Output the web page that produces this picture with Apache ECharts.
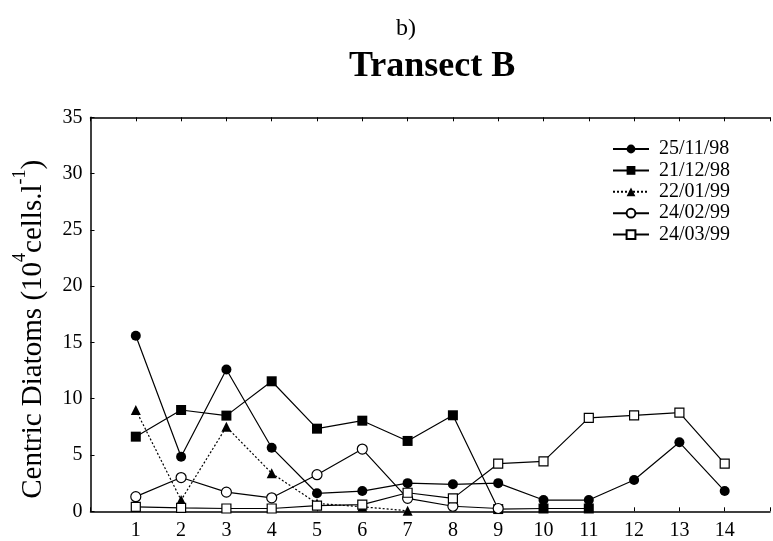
<!DOCTYPE html>
<html>
<head>
<meta charset="utf-8">
<script src="https://cdn.jsdelivr.net/npm/echarts@6/dist/echarts.min.js"></script>
<style>
  html, body { margin: 0; padding: 0; background: #fff; }
  #chart { width: 773px; height: 541px; }
</style>
</head>
<body>
<div id="chart"></div>
<script>
// Stations along transect B
const stations = [1, 2, 3, 4, 5, 6, 7, 8, 9, 10, 11, 12, 13, 14];

// Centric diatom abundance (10^4 cells per litre) for each sampling date
const d25_11_98 = [15.6, 4.85, 12.6, 5.65, 1.6, 1.8, 2.5, 2.4, 2.5, 1.0, 1.0, 2.78, 6.13, 1.8];
const d21_12_98 = [6.63, 9.0, 8.5, 11.55, 7.34, 8.05, 6.25, 8.53, 0.2, 0.25, 0.25];
const d22_01_99 = [9.0, 1.0, 7.5, 3.38, 0.7, 0.4, 0.05];
const d24_02_99 = [1.3, 3.0, 1.7, 1.2, 3.25, 5.53, 1.15, 0.45, 0.25];
const d24_03_99 = [0.4, 0.3, 0.25, 0.25, 0.5, 0.6, 1.65, 1.15, 4.23, 4.44, 8.3, 8.53, 8.76, 4.23];

const dateLabels = ['25/11/98', '21/12/98', '22/01/99', '24/02/99', '24/03/99'];
const yTicks = [0, 5, 10, 15, 20, 25, 30, 35];

const FONT = 'Liberation Serif';
const pairs = vals => vals.map((v, i) => [stations[i], v]);

function lineSeries(name, vals, symbol, size, filled, dotted) {
  return {
    name: name,
    type: 'line',
    data: pairs(vals),
    symbol: symbol,
    symbolSize: size,
    showAllSymbol: true,
    lineStyle: { color: '#000', width: 1.2, type: dotted ? [2, 2] : 'solid' },
    itemStyle: { color: filled ? '#000' : '#fff', borderColor: '#000', borderWidth: filled ? 0 : 1.2 },
    emphasis: { disabled: true },
    z: 3
  };
}

const chart = echarts.init(document.getElementById('chart'), null, { renderer: 'canvas' });

const tickLine = { show: true, inside: true, length: 4, lineStyle: { color: '#000', width: 1 } };
const axisLine = { show: true, lineStyle: { color: '#000', width: 1.5 } };

chart.setOption({
  animation: false,
  backgroundColor: '#fff',
  title: [
    { text: 'b)', left: 391, top: 12,
      textStyle: { fontFamily: FONT, fontSize: 24, fontWeight: 'normal', color: '#000' } },
    { text: 'Transect B', left: 344, top: 44,
      textStyle: { fontFamily: FONT, fontSize: 36, fontWeight: 'bold', color: '#000' } }
  ],
  legend: {
    orient: 'vertical',
    left: 607,
    top: 134,
    itemWidth: 36,
    itemHeight: 11,
    itemGap: 1.4,
    data: dateLabels,
    textStyle: { fontFamily: FONT, fontSize: 20, color: '#000', lineHeight: 20, padding: [0, 0, 0, 5] },
    selectedMode: false
  },
  grid: { left: 90.5, top: 117.3, width: 692.7, height: 394 },
  xAxis: [
    {
      type: 'value', position: 'bottom', min: 0, max: 15, interval: 1,
      axisLine: axisLine, axisTick: tickLine, splitLine: { show: false },
      axisLabel: {
        margin: 9, fontFamily: FONT, fontSize: 20, color: '#000',
        formatter: v => (stations.indexOf(v) >= 0 ? String(v) : '')
      }
    },
    {
      type: 'value', position: 'top', min: 0, max: 15, interval: 1,
      axisLine: axisLine, axisTick: tickLine, splitLine: { show: false },
      axisLabel: { show: false }
    }
  ],
  yAxis: {
    type: 'value', min: yTicks[0], max: yTicks[yTicks.length - 1], interval: 5,
    axisLine: axisLine, axisTick: tickLine, splitLine: { show: false },
    axisLabel: { margin: 8, fontFamily: FONT, fontSize: 20, color: '#000' },
    name: '{a|Centric Diatoms (10}{s|4}{a|cells.l}{s|-1}{a|)}',
    nameLocation: 'middle',
    nameGap: 43,
    nameTextStyle: {
      fontFamily: FONT, color: '#000', padding: [0, 30, 0, 0],
      rich: {
        a: { fontFamily: FONT, fontSize: 29, color: '#000', lineHeight: 36, verticalAlign: 'bottom' },
        s: { fontFamily: FONT, fontSize: 18, color: '#000', lineHeight: 36, verticalAlign: 'top' }
      }
    }
  },
  series: [
    lineSeries(dateLabels[0], d25_11_98, 'circle', 10, true, false),
    lineSeries(dateLabels[1], d21_12_98, 'rect', 10, true, false),
    lineSeries(dateLabels[2], d22_01_99, 'triangle', 10, true, true),
    lineSeries(dateLabels[3], d24_02_99, 'circle', 10, false, false),
    lineSeries(dateLabels[4], d24_03_99, 'rect', 9, false, false)
  ]
});
</script>
</body>
</html>
